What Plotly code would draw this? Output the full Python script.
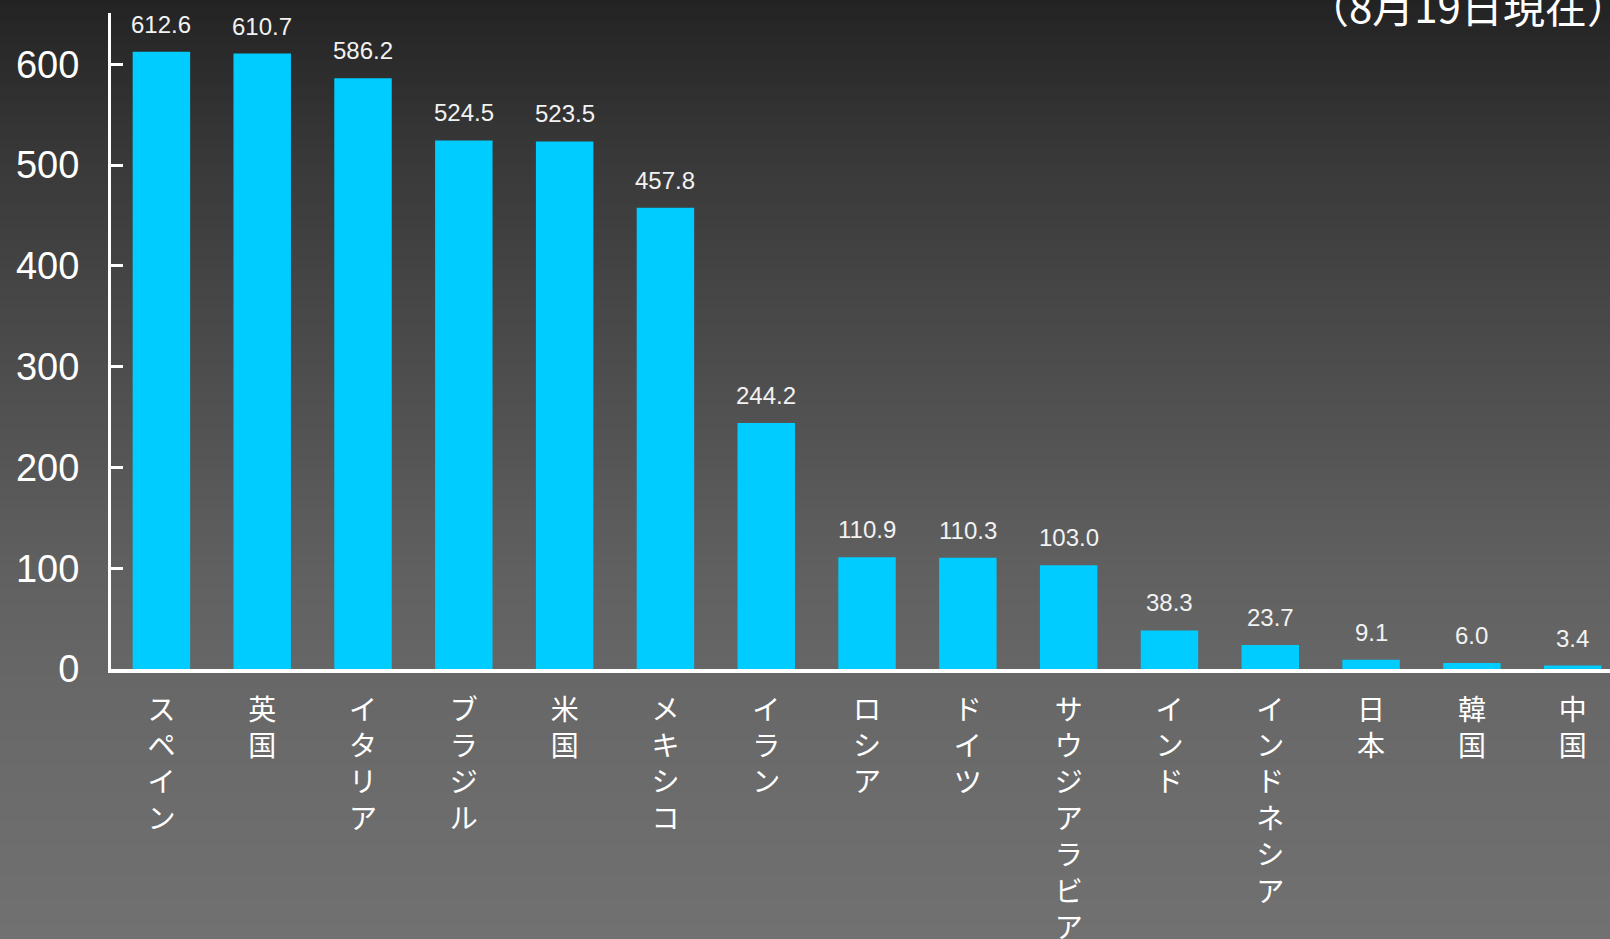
import plotly.graph_objects as go

countries = ["スペイン", "英国", "イタリア", "ブラジル", "米国", "メキシコ", "イラン", "ロシア",
             "ドイツ", "サウジアラビア", "インド", "インドネシア", "日本", "韓国", "中国"]
values = [612.6, 610.7, 586.2, 524.5, 523.5, 457.8, 244.2, 110.9,
          110.3, 103.0, 38.3, 23.7, 9.1, 6.0, 3.4]
value_labels = ["612.6", "610.7", "586.2", "524.5", "523.5", "457.8", "244.2", "110.9",
                "110.3", "103.0", "38.3", "23.7", "9.1", "6.0", "3.4"]
y_ticks = [0, 100, 200, 300, 400, 500, 600]
subtitle = "（8月19日現在）"

W, H = 1610, 939
ML, MR, MT, MB = 111, 0, 13, 270
PH = H - MT - MB
PW = W - ML - MR

FONT = "Liberation Sans, Arial, Noto Sans CJK JP, sans-serif"
CJK = "Noto Sans CJK JP, Liberation Sans, sans-serif"

fig = go.Figure()
fig.add_trace(go.Bar(
    x=list(range(len(countries))), y=values,
    marker=dict(color="#00CCFF", line=dict(width=0)),
    hoverinfo="skip",
))

# background vertical gradient (piecewise linear grey levels)
stops = [(0, 35), (160, 57), (580, 97), (700, 104), (939, 113)]
def level(py):
    for (a, ca), (b, cb) in zip(stops[:-1], stops[1:]):
        if a <= py <= b:
            return ca + (cb - ca) * (py - a) / (b - a)
    return stops[-1][1]

shapes = []
step = 5
for py in range(0, H, step):
    g = int(round(level(py + step / 2)))
    y0 = (H - MB - (py + step)) / PH
    y1 = (H - MB - py) / PH
    shapes.append(dict(type="rect", xref="paper", yref="paper",
                       x0=-ML / PW, x1=1.0, y0=y0, y1=y1 + 0.001,
                       fillcolor=f"rgb({g},{g},{g})", line=dict(width=0),
                       layer="below"))

annotations = []
for i, (v, t) in enumerate(zip(values, value_labels)):
    annotations.append(dict(x=i, y=v, xref="x", yref="y", text=t, showarrow=False,
                            yanchor="bottom", yshift=12,
                            font=dict(family=FONT, size=24, color="#f2f2f2")))

annotations.append(dict(x=1, y=1, xref="paper", yref="paper", text=subtitle,
                        showarrow=False, xanchor="right", yanchor="middle", yshift=9,
                        xshift=21,
                        font=dict(family=CJK, size=42, color="#ffffff")))

fig.update_layout(
    width=W, height=H,
    margin=dict(l=ML, r=MR, t=MT, b=MB, pad=0, autoexpand=False),
    paper_bgcolor="rgb(80,80,80)",
    plot_bgcolor="rgba(0,0,0,0)",
    bargap=0.43,
    showlegend=False,
    shapes=shapes,
    annotations=annotations,
    xaxis=dict(
        range=[-0.5, 14.37],
        tickmode="array",
        tickvals=list(range(len(countries))),
        ticktext=["<br>".join(list(c)) for c in countries],
        tickfont=dict(family=CJK, size=28, color="#ffffff"),
        ticks="",
        showline=True, linecolor="#ffffff", linewidth=4,
        showgrid=False, zeroline=False,
        ticklabelstandoff=13,
        automargin=False,
        fixedrange=True,
    ),
    yaxis=dict(
        range=[0, 651],
        tickmode="array",
        tickvals=y_ticks,
        ticktext=[str(v) for v in y_ticks],
        tickfont=dict(family=FONT, size=38, color="#ffffff"),
        ticks="inside", ticklen=12, tickwidth=3, tickcolor="#ffffff",
        showline=True, linecolor="#ffffff", linewidth=3,
        showgrid=False, zeroline=False,
        ticklabelstandoff=21,
        automargin=False,
        fixedrange=True,
    ),
)

clip_js = (
    "document.documentElement.style.overflow='hidden';"
    "document.body.style.overflow='hidden';"
    "document.body.style.margin='0';"
)

fig.write_html("out.html", config={"displayModeBar": False}, post_script=clip_js)
